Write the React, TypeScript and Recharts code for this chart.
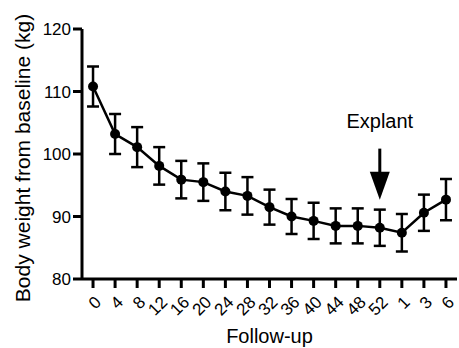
import { LineChart, Line, XAxis, YAxis, ErrorBar, ReferenceDot } from "recharts";

const categories = ["0", "4", "8", "12", "16", "20", "24", "28", "32", "36", "40", "44", "48", "52", "1", "3", "6"];
const meanWeight = [110.8, 103.2, 101.1, 98.1, 95.9, 95.5, 94.0, 93.3, 91.5, 90.0, 89.3, 88.5, 88.5, 88.2, 87.4, 90.6, 92.7];
const semWeight = [3.2, 3.2, 3.2, 3.0, 3.0, 3.0, 3.0, 3.0, 2.8, 2.8, 2.9, 2.8, 2.8, 2.9, 3.0, 2.9, 3.3];
const yTicks = [80, 90, 100, 110, 120];

const explantAt = "52";
const explantTip = 92.7;

const data = categories.map((c, i) => ({ label: c, mean: meanWeight[i], sem: semWeight[i] }));

const font = "'Liberation Sans', Arial, sans-serif";

const XTick = ({ x, y, payload }: any) => (
  <g transform={`translate(${x},${y})`}>
    <text x={5} y={9} dy="0.35em" textAnchor="end" transform="rotate(-45 5 9)" fill="#000" fontSize={17} fontFamily={font}>
      {payload.value}
    </text>
  </g>
);

const YTitle = ({ viewBox }: any) => {
  const cy = viewBox.y + viewBox.height / 2 + 4;
  return (
    <text x={30} y={cy} transform={`rotate(-90 30 ${cy})`} textAnchor="middle" fill="#000" fontSize={21} fontFamily={font}>
      Body weight from baseline (kg)
    </text>
  );
};

const XTitle = ({ viewBox }: any) => (
  <text x={viewBox.x + viewBox.width / 2} y={343} textAnchor="middle" fill="#000" fontSize={20} fontFamily={font}>
    Follow-up
  </text>
);

const Arrow = ({ cx, cy }: any) => (
  <g>
    <text x={cx} y={cy - 72} textAnchor="middle" fill="#000" fontSize={20} fontFamily={font}>Explant</text>
    <line x1={cx} y1={cy - 51} x2={cx} y2={cy - 24} stroke="#000" strokeWidth={3} />
    <path d={`M${cx - 10},${cy - 28} L${cx + 10},${cy - 28} L${cx},${cy} Z`} fill="#000" />
  </g>
);

export default function App() {
  return (
    <div style={{ position: "absolute", left: 0, top: 0, background: "#fff" }}>
      <LineChart width={459} height={348} data={data} margin={{ top: 29, right: 2, bottom: 0, left: 0 }}>
        <XAxis
          dataKey="label"
          scale="band"
          height={69}
          interval={0}
          tick={<XTick />}
          tickSize={9}
          axisLine={{ stroke: "#000", strokeWidth: 3 }}
          tickLine={{ stroke: "#000", strokeWidth: 3 }}
          label={<XTitle />}
        />
        <YAxis
          type="number"
          width={82}
          domain={[80, 120]}
          ticks={yTicks}
          tickSize={9}
          tick={{ fill: "#000", fontSize: 17, fontFamily: font }}
          axisLine={{ stroke: "#000", strokeWidth: 3 }}
          tickLine={{ stroke: "#000", strokeWidth: 3 }}
          label={<YTitle />}
        />
        <Line
          dataKey="mean"
          stroke="#000"
          strokeWidth={2.5}
          dot={{ r: 5, fill: "#000", stroke: "#000", strokeWidth: 0 }}
          isAnimationActive={false}
        >
          <ErrorBar dataKey="sem" width={6} strokeWidth={2.5} stroke="#000" direction="y" />
        </Line>
        <ReferenceDot x={explantAt} y={explantTip} shape={<Arrow />} />
      </LineChart>
    </div>
  );
}
